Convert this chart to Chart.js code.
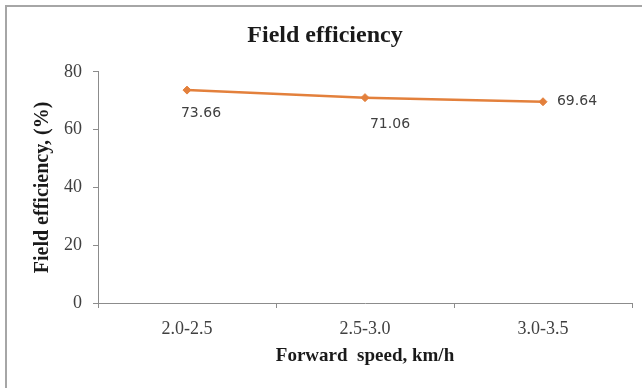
<!DOCTYPE html>
<html>
<head>
<meta charset="utf-8">
<script src="https://cdn.jsdelivr.net/npm/chart.js@4.4.1/dist/chart.umd.min.js"></script>
<style>
  html, body { margin: 0; padding: 0; background: #fff; }
  #wrap { position: relative; width: 642px; height: 388px; }
  #frame {
    position: absolute; left: 5px; top: 5px; width: 637px; height: 383px;
    border-top: 2px solid #a6a6a6; border-left: 2px solid #a6a6a6;
    pointer-events: none;
  }
</style>
</head>
<body>
<div id="wrap">
  <canvas id="chart" width="642" height="388"></canvas>
  <div id="frame"></div>
</div>
<script>
// 데이터
var speeds = ['2.0-2.5', '2.5-3.0', '3.0-3.5'];   // 전진 속도 (km/h)
var efficiency = [73.66, 71.06, 69.64];          // 포장 효율 (%)
var yTicks = [0, 20, 40, 60, 80];

// 값 라벨 위치 (점 기준 오프셋)
var labelOffsets = [[14, 23], [25, 27], [34, 0]];

var serif = '"Liberation Serif", "Times New Roman", serif';

var valueLabels = {
  id: 'valueLabels',
  afterDatasetsDraw: function(chart){
    var ctx = chart.ctx;
    var meta = chart.getDatasetMeta(0);
    ctx.save();
    ctx.font = '14px "DejaVu Sans", Verdana, sans-serif';
    ctx.fillStyle = '#404040';
    ctx.textAlign = 'center';
    ctx.textBaseline = 'middle';
    meta.data.forEach(function(pt, i){
      ctx.fillText(efficiency[i].toFixed(2), pt.x + labelOffsets[i][0], pt.y + labelOffsets[i][1]);
    });
    ctx.restore();
  }
};

new Chart(document.getElementById('chart'), {
  type: 'line',
  data: {
    labels: speeds,
    datasets: [{
      label: 'Field efficiency',
      data: efficiency,
      borderColor: '#e3803c',
      backgroundColor: '#e3803c',
      borderWidth: 2.5,
      pointStyle: 'rectRot',
      pointRadius: 4,
      pointBorderWidth: 1,
      tension: 0,
      fill: false
    }]
  },
  options: {
    responsive: false,
    animation: false,
    layout: { padding: { left: 18, right: 10, top: 0, bottom: 0 } },
    plugins: {
      legend: { display: false },
      tooltip: { enabled: false },
      title: {
        display: true,
        text: 'Field efficiency',
        color: '#1a1a1a',
        font: { family: serif, size: 24, weight: 'bold' },
        padding: { top: 21, bottom: 22 }
      }
    },
    scales: {
      x: {
        offset: true,
        grid: {
          offset: true,
          drawOnChartArea: false,
          tickLength: 5,
          color: '#8c8c8c'
        },
        border: { color: '#8c8c8c', width: 1 },
        ticks: {
          color: '#404040',
          padding: 10,
          font: { family: serif, size: 18 }
        },
        title: {
          display: true,
          text: 'Forward  speed, km/h',
          color: '#1a1a1a',
          font: { family: serif, size: 19, weight: 'bold' },
          padding: { top: 0, bottom: 21 }
        },
        afterFit: function(scale){ scale.height = 85; }
      },
      y: {
        min: 0,
        max: 80,
        afterBuildTicks: function(scale){
          scale.ticks = yTicks.map(function(v){ return { value: v }; });
        },
        grid: {
          drawOnChartArea: false,
          tickLength: 5,
          color: '#8c8c8c'
        },
        border: { color: '#8c8c8c', width: 1 },
        ticks: {
          color: '#404040',
          padding: 11,
          font: { family: serif, size: 18 }
        },
        title: {
          display: true,
          text: 'Field efficiency, (%)',
          color: '#1a1a1a',
          font: { family: serif, size: 20, weight: 'bold' },
          padding: { top: 13, bottom: 0 }
        },
        afterFit: function(scale){ scale.width = 80; }
      }
    }
  },
  plugins: [valueLabels]
});
</script>
</body>
</html>
